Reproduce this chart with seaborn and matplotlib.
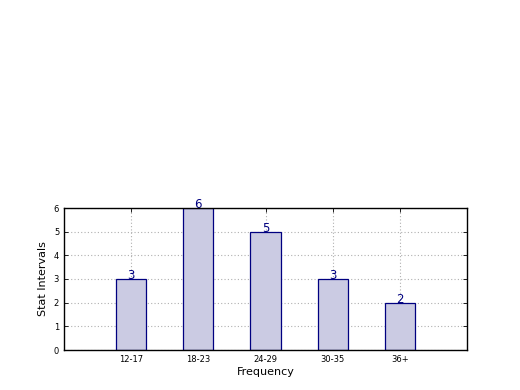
import matplotlib
matplotlib.use("Agg")
import matplotlib.pyplot as plt
import seaborn as sns
import pandas as pd

categories = ["12-17", "18-23", "24-29", "30-35", "36+"]
values = [3, 6, 5, 3, 2]

sns.set_style("ticks")
plt.rcParams['font.family'] = ['DejaVu Sans']
plt.rcParams['text.color'] = 'black'
plt.rcParams['axes.labelcolor'] = 'black'
plt.rcParams['xtick.color'] = 'black'
plt.rcParams['ytick.color'] = 'black'

df = pd.DataFrame({"cat": categories, "val": values})

fig = plt.figure(figsize=(5.2, 3.9), dpi=100)
ax = fig.add_axes([64/520, 40/390, (467-64)/520, (350-208)/390])

sns.barplot(data=df, x="cat", y="val", ax=ax, color="#cbcbe3", width=0.45,
            edgecolor="navy", linewidth=0.9, saturation=1, zorder=2)

ax.set_xlim(-1, 5)
ax.set_ylim(0, 6)
ax.set_yticks(range(0, 7))
ax.grid(True, linestyle=(0, (1, 2)), color="#b0b0b0", linewidth=0.8)
for line in ax.get_xgridlines() + ax.get_ygridlines():
    line.set_zorder(3)

for i, v in enumerate(values):
    ax.text(i, v - 0.12, str(v), ha="center", va="bottom", color="navy", fontsize=8.5, zorder=4)

ax.tick_params(axis="both", direction="in", labelsize=6, top=True, right=True, length=3, width=0.6,
               colors="black")
ax.set_xlabel("Frequency", fontsize=8, labelpad=2)
ax.set_ylabel("Stat Intervals", fontsize=8, labelpad=4)
for s in ax.spines.values():
    s.set_linewidth(1)
    s.set_color("black")
    s.set_visible(True)
    s.set_zorder(5)

fig.savefig("out.png", dpi=100)
